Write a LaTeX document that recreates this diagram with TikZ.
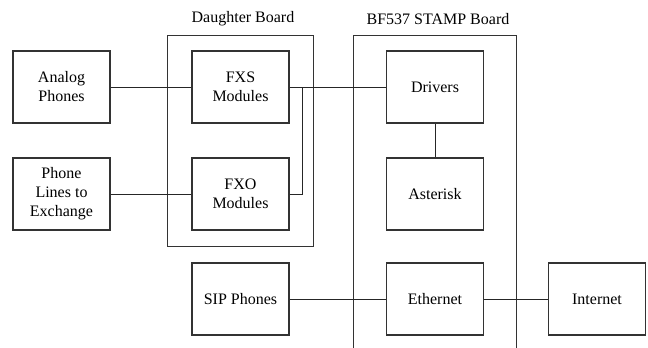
\documentclass[tikz,border=0pt]{standalone}
\usepackage{fontspec}
\setmainfont{Liberation Serif}
\def\daughterbox{(167,35) rectangle (313,246)}
\def\stampbox{(353,348) -- (353,35) -- (516,35) -- (516,348)}
\colorlet{box edge}{black!80}
\colorlet{wire}{black!85}
\tikzset{block/.style={draw=box edge, line width=1.1pt, minimum width=97pt, minimum height=72pt,
        align=center, font=\fontsize{16}{19}\selectfont},
    board/.style={draw=box edge, line width=0.9pt},
    title/.style={font=\fontsize{16}{19}\selectfont},
    link/.style={draw=wire, line width=0.9pt}}

\begin{document}
\begin{tikzpicture}[x=1pt,y=-1pt]
     \useasboundingbox (0,0) rectangle (648,348);
     \draw[board] \daughterbox;
     \draw[board] \stampbox;
     \node[title] (dtitle) at (243,19) {Daughter Board};
     \node[title] (stitle) at (438,19) {BF537 STAMP Board};
     \node[block] (analog) at (61.5,87) {Analog\\Phones};
     \node[block] (lines) at (61.5,194) {Phone\\Lines to\\Exchange};
     \node[block] (fxs) at (240.5,87) {FXS\\Modules};
     \node[block] (fxo) at (240.5,194) {FXO\\Modules};
     \node[block] (sip) at (240.5,299) {SIP Phones};
     \node[block] (drivers) at (435,87) {Drivers};
     \node[block] (asterisk) at (435,194) {Asterisk};
     \node[block] (ethernet) at (435,299) {Ethernet};
     \node[block] (internet) at (597,299) {Internet};
     \coordinate (tap) at (302,87);
     \draw[link] (analog) -- (fxs);
     \draw[link] (lines) -- (fxo);
     \draw[link] (fxs) -- (drivers);
     \draw[link] (fxo.east) -| (tap);
     \draw[link] (drivers) -- (asterisk);
     \draw[link] (sip) -- (ethernet);
     \draw[link] (ethernet) -- (internet);
 \end{tikzpicture}
\end{document}
